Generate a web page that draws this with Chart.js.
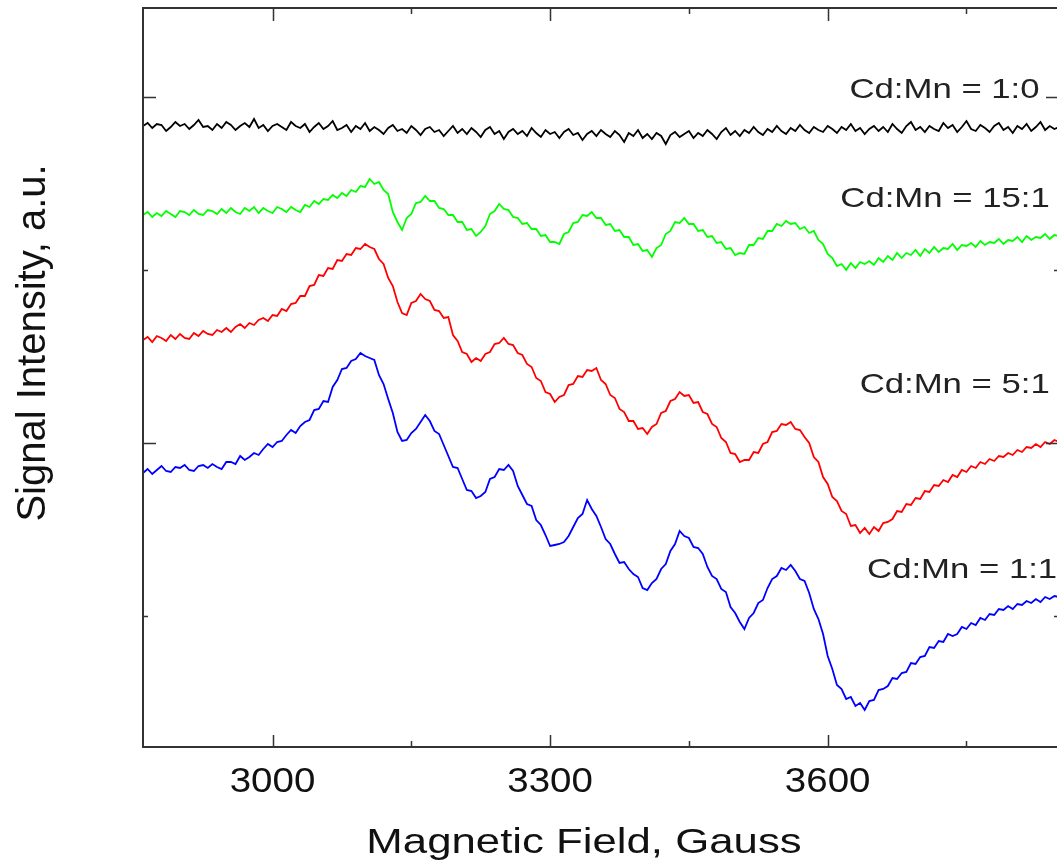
<!DOCTYPE html>
<html>
<head>
<meta charset="utf-8">
<title>EPR spectra Cd:Mn</title>
<script src="https://cdn.jsdelivr.net/npm/chart.js@4.4.1/dist/chart.umd.min.js"></script>
<style>
  html, body { margin: 0; padding: 0; background: #fff; overflow: hidden; }
  canvas { display: block; }
</style>
</head>
<body>
<canvas id="myChart" width="1062" height="866"></canvas>
<script>
/* global Chart */

// field sweep: 2860 G .. 3850 G, one reading every 5 G
const fieldStart = 2860;
const fieldStep = 5;

// signal intensity, a.u. (10 readings per row)
const cdMn1to0 = [
  663, 666, 661, 665, 664, 658, 662, 667, 663, 665,
  660, 664, 669, 662, 663, 659, 665, 661, 667, 664,
  659, 663, 666, 662, 670, 661, 664, 658, 663, 665,
  662, 659, 667, 663, 661, 665, 657, 662, 666, 660,
  663, 668, 659, 661, 664, 657, 663, 660, 666, 658,
  662, 659, 655, 661, 664, 658, 660, 656, 663, 659,
  654, 660, 662, 657, 659, 653, 658, 663, 656, 660,
  655, 661, 657, 652, 659, 662, 655, 658, 650, 657,
  660, 655, 658, 653, 661, 656, 652, 659, 655, 657,
  651, 657, 660, 654, 656, 649, 655, 658, 653, 659,
  655, 652, 658, 654, 647, 656, 653, 659, 651, 655,
  650, 656, 653, 645, 654, 657, 652, 655, 658, 651,
  656, 653, 659, 655, 650, 657, 661, 654, 658, 653,
  659, 656, 662, 657, 654, 660, 657, 663, 658, 655,
  661, 658, 664, 659, 656, 662, 659, 657, 663, 660,
  656, 662, 659, 665, 658, 661, 655, 660, 663, 658,
  662, 657, 665, 660, 656, 663, 667, 659, 662, 657,
  663, 660, 658, 666, 661, 664, 657, 662, 668, 660,
  658, 664, 661, 657, 663, 666, 659, 662, 656, 663,
  660, 665, 658, 662, 667, 659, 663, 660, 662
];
const cdMn15to1 = [
  574, 577, 572, 576, 573, 578, 575, 572, 578, 577,
  574, 579, 575, 574, 579, 578, 575, 580, 576, 581,
  577, 575, 581, 578, 582, 576, 581, 578, 576, 582,
  580, 577, 582, 579, 577, 584, 582, 588, 585, 590,
  589, 594, 591, 596, 593, 599, 597, 603, 602, 610,
  605, 607, 599, 595, 577, 567, 559, 571, 575, 586,
  587, 593, 588, 588, 581, 580, 574, 574, 567, 567,
  559, 560, 553, 557, 563, 575, 578, 585, 580, 579,
  572, 571, 565, 566, 560, 560, 553, 554, 547, 547,
  545, 555, 557, 566, 567, 574, 573, 577, 571, 571,
  564, 565, 558, 559, 552, 552, 544, 545, 538, 539,
  532, 541, 544, 555, 558, 567, 566, 571, 565, 565,
  558, 559, 552, 553, 546, 547, 540, 541, 534, 536,
  535, 544, 544, 551, 550, 558, 558, 565, 563, 568,
  565, 566, 560, 562, 556, 558, 549, 545, 535, 531,
  523, 525, 519, 526, 521, 527, 525, 528, 524, 531,
  527, 533, 529, 536, 531, 536, 534, 539, 533, 540,
  536, 542, 537, 541, 540, 545, 539, 544, 543, 546,
  542, 548, 544, 547, 546, 550, 545, 549, 548, 552,
  547, 553, 549, 552, 551, 555, 550, 554, 553
];
const cdMn5to1 = [
  449, 452, 447, 453, 451, 448, 454, 450, 455, 451,
  450, 456, 453, 458, 455, 454, 459, 457, 461, 457,
  462, 465, 461, 466, 464, 469, 471, 468, 474, 473,
  480, 478, 485, 486, 493, 493, 503, 504, 514, 513,
  521, 520, 529, 528, 535, 534, 541, 540, 545, 542,
  540, 530, 525, 511, 503, 487, 476, 474, 486, 488,
  495, 490, 488, 479, 478, 471, 472, 454, 448, 437,
  435, 427, 431, 428, 435, 437, 445, 446, 451, 445,
  444, 436, 434, 425, 422, 411, 408, 397, 395, 387,
  392, 394, 404, 405, 413, 412, 419, 418, 421, 409,
  405, 394, 391, 380, 377, 368, 368, 360, 361, 355,
  362, 365, 376, 378, 388, 390, 397, 393, 394, 386,
  387, 377, 375, 365, 362, 351, 347, 336, 335, 327,
  329, 329, 337, 336, 345, 347, 357, 358, 365, 364,
  367, 360, 359, 352, 346, 332, 327, 312, 305, 292,
  288, 278, 275, 263, 264, 256, 261, 255, 262, 258,
  266, 267, 270, 278, 277, 285, 284, 291, 290, 298,
  297, 304, 303, 309, 307, 314, 312, 319, 317, 323,
  321, 327, 325, 330, 328, 333, 332, 336, 334, 339,
  337, 342, 341, 345, 342, 347, 345, 349, 347
];
const cdMn1to1 = [
  316, 320, 315, 319, 323, 318, 317, 322, 321, 324,
  319, 318, 323, 324, 321, 325, 322, 320, 327, 327,
  325, 333, 329, 332, 336, 334, 340, 345, 342, 347,
  348, 354, 359, 356, 363, 367, 369, 379, 380, 388,
  387, 402, 409, 420, 421, 428, 430, 436, 433, 431,
  429, 414, 405, 390, 376, 357, 348, 349, 356, 360,
  367, 374, 368, 358, 355, 344, 333, 322, 321, 310,
  299, 298, 291, 293, 297, 310, 312, 320, 319, 324,
  318, 303, 294, 285, 283, 269, 264, 254, 243, 244,
  245, 247, 253, 262, 271, 275, 289, 280, 273, 262,
  250, 245, 235, 226, 227, 220, 215, 212, 201, 199,
  206, 210, 220, 225, 238, 245, 258, 253, 251, 242,
  241, 235, 222, 213, 210, 200, 197, 182, 176, 167,
  160, 171, 176, 186, 189, 201, 210, 213, 221, 219,
  224, 218, 210, 208, 196, 180, 170, 155, 133, 120,
  104, 100, 90, 92, 83, 86, 79, 88, 89, 99,
  100, 103, 111, 110, 116, 117, 126, 125, 132, 133,
  142, 141, 148, 147, 155, 153, 155, 162, 160, 166,
  164, 171, 169, 175, 174, 180, 179, 183, 180, 185,
  184, 188, 186, 190, 187, 192, 190, 193, 192
];

const seriesNames = ['Cd:Mn = 1:0', 'Cd:Mn = 15:1', 'Cd:Mn = 5:1', 'Cd:Mn = 1:1'];
const xTickLabels = [3000, 3300, 3600];
const xMinorTicks = [3150, 3450, 3750];
const yMajorTicks = [346, 692];
const yMinorTicks = [173, 519];

const field = cdMn1to1.map(function(v, i) { return fieldStart + i * fieldStep; });

function toPoints(values) {
  return values.map(function(v, i) { return {x: field[i], y: v}; });
}

function stretchText(ctx, text, x, y, sx, align) {
  ctx.save();
  ctx.translate(x, y);
  ctx.scale(sx, 1);
  ctx.textAlign = align;
  ctx.fillText(text, 0, 0);
  ctx.restore();
}

const framePlugin = {
  id: 'frame',
  afterDatasetsDraw: function(chart) {
    const ctx = chart.ctx;
    const a = chart.chartArea;
    const x = chart.scales.x;
    const y = chart.scales.y;
    ctx.save();
    ctx.strokeStyle = '#333';
    ctx.lineWidth = 2;
    ctx.strokeRect(a.left, a.top, a.right - a.left, a.bottom - a.top);

    ctx.lineWidth = 1.5;
    ctx.beginPath();
    xTickLabels.forEach(function(v) {
      const px = Math.round(x.getPixelForValue(v)) + 0.5;
      ctx.moveTo(px, a.bottom); ctx.lineTo(px, a.bottom - 12);
      ctx.moveTo(px, a.top); ctx.lineTo(px, a.top + 13);
    });
    xMinorTicks.forEach(function(v) {
      const px = Math.round(x.getPixelForValue(v)) + 0.5;
      ctx.moveTo(px, a.bottom); ctx.lineTo(px, a.bottom - 6);
      ctx.moveTo(px, a.top); ctx.lineTo(px, a.top + 6);
    });
    yMajorTicks.forEach(function(v) {
      const py = Math.round(y.getPixelForValue(v)) + 0.5;
      ctx.moveTo(a.left, py); ctx.lineTo(a.left + 13, py);
      ctx.moveTo(a.right, py); ctx.lineTo(a.right - 13, py);
    });
    yMinorTicks.forEach(function(v) {
      const py = Math.round(y.getPixelForValue(v)) + 0.5;
      ctx.moveTo(a.left, py); ctx.lineTo(a.left + 5, py);
      ctx.moveTo(a.right, py); ctx.lineTo(a.right - 5, py);
    });
    ctx.stroke();

    ctx.fillStyle = '#111';
    ctx.textBaseline = 'alphabetic';
    ctx.font = '35px "Liberation Sans", Arial, sans-serif';
    xTickLabels.forEach(function(v) {
      stretchText(ctx, String(v), x.getPixelForValue(v), 792, 1.1, 'center');
    });

    ctx.font = '35px "Liberation Sans", Arial, sans-serif';
    stretchText(ctx, 'Magnetic Field, Gauss', 584, 853, 1.25, 'center');

    ctx.save();
    ctx.translate(45, 343);
    ctx.rotate(-Math.PI / 2);
    ctx.font = '40px "Liberation Sans", Arial, sans-serif';
    ctx.textAlign = 'center';
    ctx.fillText('Signal Intensity, a.u.', 0, 0);
    ctx.restore();

    // curve labels, anchored in data coordinates
    ctx.fillStyle = '#222';
    ctx.font = '28px "Liberation Sans", Arial, sans-serif';
    const labelAt = [[3829, 691], [3840, 582], [3840, 396], [3848, 211]];
    seriesNames.forEach(function(name, i) {
      stretchText(ctx, name, x.getPixelForValue(labelAt[i][0]), y.getPixelForValue(labelAt[i][1]), 1.24, 'right');
    });
    ctx.restore();
  }
};

const ctx = document.getElementById('myChart').getContext('2d');

const chart = new Chart(ctx, {
  type: 'line',
  data: {
    datasets: [{
      label: seriesNames[0],
      data: toPoints(cdMn1to0),
      borderColor: '#000000',
    },
    {
      label: seriesNames[1],
      data: toPoints(cdMn15to1),
      borderColor: '#00ff00',
    },
    {
      label: seriesNames[2],
      data: toPoints(cdMn5to1),
      borderColor: '#ff0000',
    },
    {
      label: seriesNames[3],
      data: toPoints(cdMn1to1),
      borderColor: '#0000ff',
    }]
  },
  options: {
    responsive: false,
    animation: false,
    devicePixelRatio: 1,
    layout: { padding: { left: 143, right: 3, top: 8, bottom: 119 } },
    elements: {
      line: { borderWidth: 1.8, tension: 0 },
      point: { radius: 0 }
    },
    scales: {
      x: { type: 'linear', min: 2860, max: 3850, display: false },
      y: { type: 'linear', min: 42, max: 781, display: false }
    },
    plugins: {
      legend: { display: false },
      tooltip: { enabled: false }
    }
  },
  plugins: [framePlugin]
});
console.log(chart);
</script>
</body>
</html>
